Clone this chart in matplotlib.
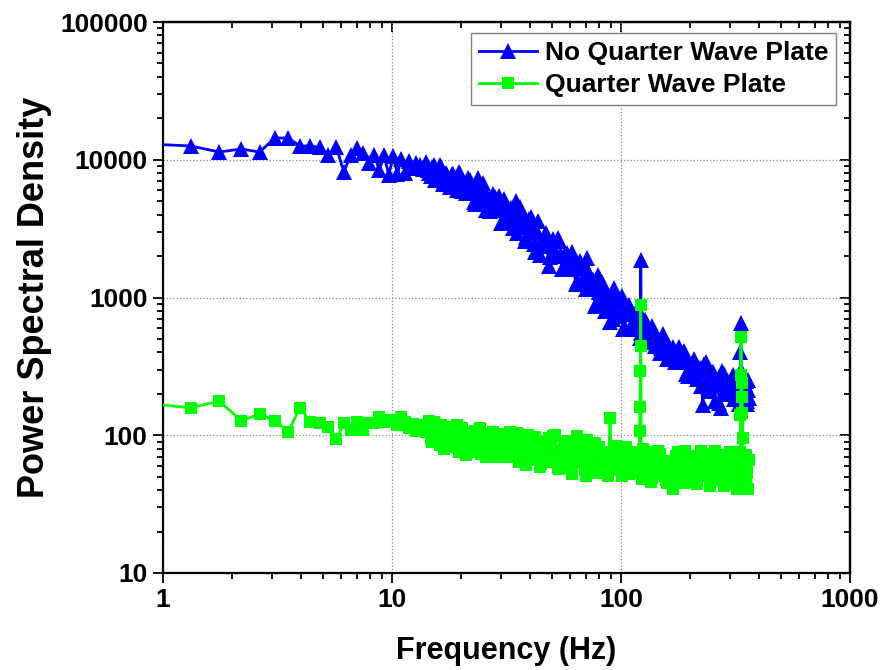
import matplotlib
matplotlib.use('Agg')
import matplotlib.pyplot as plt
from matplotlib.ticker import FixedLocator, FuncFormatter, NullFormatter, LogLocator

plt.rcParams['font.family'] = ['Liberation Sans', 'DejaVu Sans']
plt.rcParams['font.weight'] = 'bold'

# main frequency bins (Hz)
freq = [0.88, 1.32, 1.76, 2.20, 2.64, 3.08, 3.52, 3.96, 4.40, 4.84,
        5.28, 5.72, 6.16, 6.60, 7.04, 7.48, 7.92, 8.36, 8.80, 9.24,
        9.68, 10.12, 10.56, 11.00, 11.44, 11.88, 12.32, 12.76, 13.20, 13.64,
        14.1, 14.5, 15.0, 15.4, 15.9, 16.4, 16.9, 17.4, 17.9, 18.5,
        19.0, 19.6, 20.2, 20.8, 21.5, 22.1, 22.8, 23.5, 24.2, 24.9,
        25.7, 26.5, 27.3, 28.1, 29.0, 29.9, 30.8, 31.7, 32.7, 33.7,
        34.7, 35.8, 36.9, 38.0, 39.2, 40.4, 41.6, 42.9, 44.2, 45.5,
        46.9, 48.3, 49.8, 51.3, 52.9, 54.5, 56.2, 57.9, 59.6, 61.4,
        63.3, 65.2, 67.2, 69.3, 71.4, 73.6, 75.8, 78.1, 80.5, 83.0,
        85.5, 88.1, 89.5, 90.8, 93.6, 96.4, 99.4, 102.4, 105.5, 108.7,
        112.0, 115.4, 118.0, 119.5, 120.5, 121.0, 121.4, 121.7, 122.0, 122.5,
        123.5, 125.0, 128.9, 132.8, 136.8, 141.0, 145.3, 149.7, 154.3, 159.0,
        163.8, 168.8, 174.0, 179.3, 184.7, 190.3, 196.1, 202.1, 208.3, 214.6,
        221.1, 227.8, 234.7, 241.9, 249.2, 256.8, 264.6, 272.7, 281.0, 289.5,
        298.3, 307.4, 316.7, 322, 326, 329, 331, 332.5, 334, 335.5,
        337, 339, 342, 346, 350, 354, 358, 362]

psd_no_qwp = [13000, 12590, 11380, 11970, 11380, 14380, 14380, 12590, 12590, 12300,
              10800, 12300, 8150, 10800, 12160, 11200, 9500, 10800, 8400, 10800,
              7740, 10650, 7900, 10200, 8000, 9800, 8700, 9500, 9200, 8600,
              9700, 8010, 8800, 7100, 8010, 8870, 6940, 7750, 6300, 7920,
              6780, 8200, 5910, 6680, 7310, 5830, 4900, 6460, 5550, 6830,
              4350, 5300, 4360, 5390, 4560, 3500, 5190, 3730, 4310, 3200,
              5000, 3460, 4090, 2570, 3290, 3830, 2460, 3010, 2030, 2500,
              2960, 1700, 2420, 1990, 2700, 2050, 1650, 2120, 1650, 2140,
              1250, 1625, 1290, 1660, 1950, 1185, 1335, 890, 1090, 1290,
              800, 1020, 665, 860, 1170, 730, 930, 595, 755, 875,
              600, 710, 800, 595, 725, 510, 635, 750, 1870, 555,
              680, 500, 660, 525, 620, 443, 495, 432, 512, 360,
              416, 434, 342, 437, 348, 366, 270, 326, 359, 258,
              309, 166, 342, 233, 290, 178, 236, 158, 277, 199,
              236, 275, 182, 217, 248, 170, 232, 400, 650, 300,
              199, 259, 178, 222, 248, 170, 212, 186]

psd_qwp = [170, 158, 177, 127, 143, 127, 106, 158, 125, 122,
           115, 94, 122, 110, 125, 110, 122, 122, 135, 125,
           130, 128, 118, 135, 125, 112, 120, 108, 118, 110,
           106, 127, 89, 111, 94, 118, 80, 102, 85, 109,
           92, 75, 113, 85, 97, 76, 101, 79, 112, 88,
           69, 102, 82, 94, 70, 102, 76, 86, 105, 71,
           86, 64, 94, 74, 100, 66, 78, 89, 59, 84,
           67, 95, 72, 100, 58, 76, 88, 65, 78, 52,
           90, 69, 81, 56, 93, 63, 74, 53, 82, 59,
           73, 51, 133, 67, 82, 56, 72, 60, 82, 52,
           66, 57, 74, 59, 107, 160, 292, 445, 883, 64,
           48, 70, 55, 75, 49, 63, 77, 53, 65, 45,
           58, 41, 71, 51, 63, 77, 46, 57, 69, 44,
           62, 73, 51, 65, 47, 77, 54, 66, 43, 59,
           75, 48, 62, 41, 68, 53, 75, 140, 516, 274,
           240, 145, 50, 72, 44, 60, 41, 66]

# additional bins in between (dense part of the spectrum)
freq_fill = [14.3, 14.75, 15.2, 15.65, 16.15, 16.65, 17.15, 17.65, 18.2, 18.75,
             19.3, 19.9, 20.5, 21.15, 21.8, 22.45, 23.15, 23.85, 24.55, 25.3,
             26.1, 26.9, 27.7, 28.55, 29.45, 30.35, 31.25, 32.2, 33.2, 34.2,
             35.25, 36.35, 37.45, 38.6, 39.8, 41.0, 42.25, 43.55, 44.85, 46.2,
             47.6, 49.05, 50.55, 52.1, 53.7, 55.35, 57.05, 58.75, 60.5, 62.35,
             64.25, 66.2, 68.25, 70.35, 72.5, 74.7, 76.95, 79.3, 81.75, 84.25,
             86.8, 92.2, 95.0, 97.9, 100.9, 103.9, 107.1, 110.3, 113.7, 116.7,
             124.2, 126.9, 130.8, 134.8, 138.9, 143.1, 147.5, 152.0, 156.6, 161.4,
             166.3, 171.4, 176.6, 182.0, 187.5, 193.2, 199.1, 205.2, 211.4, 217.8,
             224.4, 231.2, 238.3, 245.5, 253.0, 260.7, 268.6, 276.8, 285.2, 293.9,
             302.8, 312.0, 319.3, 324, 327.5, 338, 340.5, 344, 348, 352,
             356, 360]

psd_no_qwp_fill = [8370, 7620, 9110, 7760, 9090, 6700, 7950, 6830, 7890, 7200,
                   6030, 7840, 6400, 5770, 7090, 6390, 4800, 7330, 5070, 5930,
                   5050, 4230, 5610, 4330, 5490, 3500, 4540, 3560, 4500, 3940,
                   2950, 4570, 3240, 2750, 3700, 3150, 2150, 3570, 2350, 2790,
                   2350, 1960, 2670, 2010, 2590, 1610, 2060, 1610, 1980, 1710,
                   1285, 1850, 1355, 1150, 1510, 1290, 870, 1460, 917, 1117,
                   920, 703, 1044, 743, 1020, 588, 784, 621, 758, 668,
                   522, 691, 538, 476, 566, 506, 395, 540, 408, 447,
                   393, 342, 421, 341, 410, 277, 339, 276, 331, 292,
                   226, 328, 244, 210, 286, 247, 171, 295, 200, 243,
                   212, 182, 250, 199, 259, 174, 227, 190, 237, 217,
                   178, 253]

psd_qwp_fill = [114, 94, 124, 101, 85, 104, 91, 114, 82, 95,
                118, 86, 103, 72, 93, 80, 108, 84, 73, 93,
                96, 75, 106, 83, 69, 88, 76, 98, 70, 82,
                104, 75, 91, 61, 81, 69, 97, 73, 62, 83,
                85, 64, 98, 72, 57, 78, 65, 91, 58, 72,
                99, 64, 83, 51, 72, 60, 88, 65, 54, 74,
                75, 57, 84, 64, 51, 68, 58, 76, 53, 62,
                80, 56, 69, 46, 61, 51, 73, 55, 47, 63,
                65, 49, 75, 57, 45, 62, 52, 71, 48, 58,
                77, 53, 67, 43, 59, 49, 72, 54, 45, 62,
                64, 46, 75, 54, 42, 190, 95, 60, 48, 72,
                53, 66]

x_ticks = [1, 10, 100, 1000]
y_ticks = [10, 100, 1000, 10000, 100000]
x_label = 'Frequency (Hz)'
y_label = 'Power Spectral Density'
series_labels = ['No Quarter Wave Plate', 'Quarter Wave Plate']

rows = sorted(zip(freq + freq_fill, psd_no_qwp + psd_no_qwp_fill, psd_qwp + psd_qwp_fill))
f_all = [r[0] for r in rows]
blue_all = [r[1] for r in rows]
green_all = [r[2] for r in rows]

fig = plt.figure(figsize=(8.83, 6.70), dpi=100)
ax = fig.add_axes([163 / 883, 1 - 573 / 670, 687 / 883, 551 / 670])

ax.plot(f_all, blue_all, color='#0000FF', lw=2, marker='^', ms=11, mew=0,
        label=series_labels[0], zorder=3)
ax.plot(f_all, green_all, color='#00FF00', lw=2, marker='s', ms=8.5, mew=0,
        label=series_labels[1], zorder=4)

ax.set_xscale('log')
ax.set_yscale('log')
ax.set_xlim(1, 1000)
ax.set_ylim(10, 100000)

ax.xaxis.set_major_locator(FixedLocator(x_ticks))
ax.yaxis.set_major_locator(FixedLocator(y_ticks))
ax.xaxis.set_minor_locator(LogLocator(base=10, subs=range(2, 10)))
ax.yaxis.set_minor_locator(LogLocator(base=10, subs=range(2, 10)))
fmt = FuncFormatter(lambda v, p: '%d' % round(v))
ax.xaxis.set_major_formatter(fmt)
ax.yaxis.set_major_formatter(fmt)
ax.xaxis.set_minor_formatter(NullFormatter())
ax.yaxis.set_minor_formatter(NullFormatter())

ax.grid(True, which='major', color='#888888', linestyle=':', linewidth=0.9)
ax.set_axisbelow(True)

ax.tick_params(which='both', direction='out', top=False, right=False, width=1.3,
               labelsize=19, pad=4)
ax.tick_params(which='major', length=7)
ax.tick_params(which='minor', length=4)
for sp in ax.spines.values():
    sp.set_linewidth(1.6)

secx = ax.secondary_xaxis('top')
secx.xaxis.set_major_locator(FixedLocator(x_ticks))
secx.xaxis.set_minor_locator(LogLocator(base=10, subs=range(2, 10)))
secx.xaxis.set_major_formatter(NullFormatter())
secx.xaxis.set_minor_formatter(NullFormatter())
secx.tick_params(which='both', direction='in', width=1.3)
secx.tick_params(which='major', length=7)
secx.tick_params(which='minor', length=4)
secx.spines['top'].set_linewidth(1.6)

secy = ax.secondary_yaxis('right')
secy.yaxis.set_major_locator(FixedLocator(y_ticks))
secy.yaxis.set_minor_locator(LogLocator(base=10, subs=range(2, 10)))
secy.yaxis.set_major_formatter(NullFormatter())
secy.yaxis.set_minor_formatter(NullFormatter())
secy.tick_params(which='both', direction='in', width=1.3)
secy.tick_params(which='major', length=7)
secy.tick_params(which='minor', length=4)
secy.spines['right'].set_linewidth(1.6)

ax.set_xlabel(x_label, fontsize=22, fontweight='bold', labelpad=17)
ax.set_ylabel(y_label, fontsize=26, fontweight='bold', labelpad=6)

leg = ax.legend(loc='upper right', bbox_to_anchor=(0.98, 0.98), borderaxespad=0,
                fancybox=False, edgecolor='#808080', framealpha=1,
                prop={'weight': 'bold', 'size': 19}, handlelength=2.2, numpoints=1,
                borderpad=0.3, labelspacing=0.3, handletextpad=0.3)
leg.get_frame().set_linewidth(1.0)

fig.savefig('out.png', dpi=100)
